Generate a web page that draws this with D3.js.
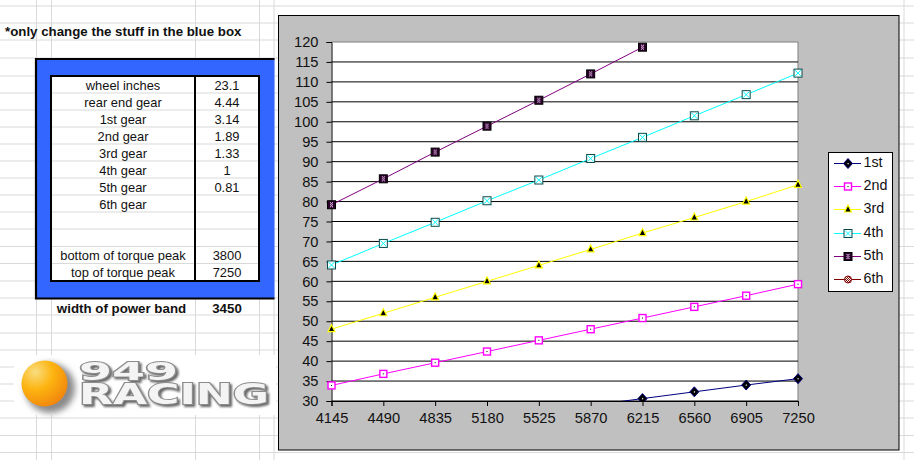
<!DOCTYPE html>
<html><head><meta charset="utf-8">
<script src="https://cdn.jsdelivr.net/npm/d3@7/dist/d3.min.js"></script>
<style>html,body{margin:0;padding:0;background:#fff}svg{display:block}text{font-family:"Liberation Sans",Arial,sans-serif;fill:#111}</style>
</head><body><svg id="c" width="914" height="460"></svg>
<script>
const categories=[4145,4490,4835,5180,5525,5870,6215,6560,6905,7250];
const gear1=[null,null,null,null,null,28.9,30.6,32.3,34.0,35.6];
const gear2=[33.9,36.8,39.6,42.4,45.2,48.0,50.8,53.6,56.4,59.3];
const gear3=[48.0,52.0,56.0,60.0,64.0,68.0,72.1,76.0,80.0,84.2];
const gear4=[64.1,69.5,74.8,80.2,85.4,90.8,96.1,101.5,106.8,112.2];
const gear5=[79.2,85.7,92.4,98.9,105.4,112.0,118.7,null,null,null];
const gear6=[];
const seriesNames=["1st","2nd","3rd","4th","5th","6th"];
const yTicks=d3.range(30,121,5);
const rowLabels=["wheel inches","rear end gear","1st gear","2nd gear","3rd gear","4th gear","5th gear","6th gear","","","bottom of torque peak","top of torque peak"];
const rowValues=["23.1","4.44","3.14","1.89","1.33","1","0.81","","","","3800","7250"];
const sheetRows=[6,23,40,58,76,93,110,127,144,161,178,195,212,229,246.5,263.5,281,298,315,333,350,367,384,401,418,435.5,452.5];
const sheetCols=[36.5,51.5,195.5,259.5,274,904];

const svg=d3.select("#c");
const T={sheet:"#d9d9d9",blue:"#3366ff",chart:"#c0c0c0"};
const colors=["#000080","#ff00ff","#ffff00","#00ffff","#800080","#800000"];
const data=[gear1,gear2,gear3,gear4,gear5,gear6];
const M={l:331.5,r:798,t:42,b:401};
const x=d3.scalePoint().domain(categories).range([M.l,M.r]);
const y=d3.scaleLinear().domain([30,120]).range([M.b,M.t]);

const defs=svg.append("defs");
defs.append("clipPath").attr("id","pc").append("rect").attr("x",M.l-8).attr("y",M.t-8).attr("width",M.r-M.l+16).attr("height",M.b-M.t+8);
defs.append("clipPath").attr("id","pl").append("rect").attr("x",M.l).attr("y",M.t).attr("width",M.r-M.l).attr("height",M.b-M.t);
const p6=defs.append("pattern").attr("id","p6").attr("width",2).attr("height",2).attr("patternUnits","userSpaceOnUse");
p6.append("rect").attr("width",2).attr("height",2).attr("fill","#fff");
p6.append("rect").attr("width",1).attr("height",1).attr("fill","#800000");
p6.append("rect").attr("x",1).attr("y",1).attr("width",1).attr("height",1).attr("fill","#800000");
const sph=defs.append("radialGradient").attr("id","sph").attr("cx",.3).attr("cy",.25).attr("r",.85);
sph.append("stop").attr("offset",0).attr("stop-color","#f9dd80");
sph.append("stop").attr("offset",.45).attr("stop-color","#fdb410");
sph.append("stop").attr("offset",1).attr("stop-color","#f0820c");
defs.append("filter").attr("id","blur").attr("x","-30%").attr("y","-30%").attr("width","160%").attr("height","160%").append("feGaussianBlur").attr("stdDeviation",3);
defs.append("filter").attr("id","ds").attr("x","-5%").attr("y","-20%").attr("width","115%").attr("height","150%").append("feDropShadow")
 .attr("dx",2).attr("dy",2).attr("stdDeviation",1.2).attr("flood-color","#666");

// spreadsheet grid
const g0=svg.append("g").attr("stroke",T.sheet).attr("stroke-width",1);
g0.selectAll("line.r").data(sheetRows).join("line").attr("x1",0).attr("x2",914).attr("y1",d=>d).attr("y2",d=>d);
g0.selectAll("line.c").data(sheetCols).join("line").attr("y1",0).attr("y2",460).attr("x1",d=>d).attr("x2",d=>d);

// blue box
svg.append("rect").attr("x",36).attr("y",59).attr("width",238.5).attr("height",239).attr("fill",T.blue);
svg.append("path").attr("d","M274.5 59H36V298.5H274.5").attr("fill","none").attr("stroke","#000").attr("stroke-width",2.2);
svg.append("rect").attr("x",51).attr("y",76).attr("width",208).attr("height",205).attr("fill","#fff").attr("stroke","#000").attr("stroke-width",2);
svg.append("g").attr("stroke",T.sheet).selectAll("line").data(sheetRows.filter(d=>d>76&&d<280)).join("line")
 .attr("x1",52).attr("x2",258).attr("y1",d=>d).attr("y2",d=>d);
svg.append("line").attr("x1",195).attr("x2",195).attr("y1",76).attr("y2",281).attr("stroke","#000").attr("stroke-width",2);
rowLabels.forEach((t,i)=>{const yy=90+17*i;
 svg.append("text").attr("x",123).attr("y",yy).attr("text-anchor","middle").attr("font-size",12.9).text(t);
 svg.append("text").attr("x",227).attr("y",yy).attr("text-anchor","middle").attr("font-size",12.9).text(rowValues[i]);});
svg.append("text").attr("x",5).attr("y",36).attr("font-size",13.3).attr("font-weight","bold").text("*only change the stuff in the blue box");
svg.append("text").attr("x",121.5).attr("y",313).attr("text-anchor","middle").attr("font-size",13.3).attr("font-weight","bold").text("width of power band");
svg.append("text").attr("x",227).attr("y",313).attr("text-anchor","middle").attr("font-size",13.3).attr("font-weight","bold").text("3450");

// logo
svg.append("rect").attr("x",14).attr("y",355).attr("width",262).attr("height",60).attr("fill","#fff");
svg.append("circle").attr("cx",50).attr("cy",388).attr("r",25).attr("fill","#8a8a8a").attr("filter","url(#blur)");
svg.append("circle").attr("cx",44.5).attr("cy",383.5).attr("r",23).attr("fill","url(#sph)");
function logo(t,xx,yy,w,fs){
 svg.append("text").attr("x",xx).attr("y",yy).attr("font-size",fs).attr("textLength",w).attr("lengthAdjust","spacingAndGlyphs").text(t)
  .attr("filter","url(#ds)")
  .style("font-family","'DejaVu Sans'").style("font-weight","bold")
  .style("fill","#f4f4f4").style("stroke","#8c8c8c").style("stroke-width",1.8).style("paint-order","stroke");
}
logo("949",79,380,99,25);
logo("RACING",79,403.5,190,28);

// chart
svg.append("rect").attr("x",278.5).attr("y",15.5).attr("width",620.5).attr("height",434.5).attr("fill",T.chart).attr("stroke","#000");
svg.append("rect").attr("x",M.l).attr("y",M.t).attr("width",M.r-M.l).attr("height",M.b-M.t).attr("fill","#fff");
svg.append("path").attr("d",`M${M.l} ${M.t}H${M.r}V${M.b}`).attr("fill","none").attr("stroke","#808080");
svg.append("g").attr("stroke","#000").selectAll("line").data(yTicks.filter(d=>d<120)).join("line")
 .attr("x1",M.l).attr("x2",M.r).attr("y1",d=>y(d)).attr("y2",d=>y(d));
const yAxis=svg.append("g").attr("transform",`translate(${M.l},0)`).call(d3.axisLeft(y).tickValues(yTicks).tickSize(5).tickPadding(8));
const xAxis=svg.append("g").attr("transform",`translate(0,${M.b})`).call(d3.axisBottom(x).tickSize(5).tickPadding(7));
[yAxis,xAxis].forEach(a=>{a.selectAll("path,line").attr("stroke","#000");a.selectAll("text").attr("font-size",14.67).style("font-family","'Liberation Sans'").style("fill","#111");});

const line=d3.line().defined(d=>d.v!=null).x(d=>x(d.c)).y(d=>y(d.v));
const lg=svg.append("g").attr("clip-path","url(#pl)");
const mg=svg.append("g").attr("clip-path","url(#pc)");
function marker(g,i,cx,cy){
 if(i===0){g.append("path").attr("d",`M${cx} ${cy-5}L${cx+4.5} ${cy}L${cx} ${cy+5}L${cx-4.5} ${cy}Z`).attr("fill","#000").attr("stroke","#000080");
  g.append("rect").attr("x",cx-.5).attr("y",cy-.5).attr("width",1.2).attr("height",1.2).attr("fill","#fff");}
 if(i===1){g.append("rect").attr("x",cx-3.5).attr("y",cy-3.5).attr("width",7).attr("height",7).attr("fill","#fff").attr("stroke","#ff00ff").attr("stroke-width",1.4);
  g.append("rect").attr("x",cx-.5).attr("y",cy-.5).attr("width",1).attr("height",1).attr("fill","#000");}
 if(i===2){g.append("path").attr("d",`M${cx} ${cy-4.5}L${cx+3.5} ${cy+2.5}H${cx-3.5}Z`).attr("fill","#000").attr("stroke","#ffff00").attr("stroke-width",1.2);}
 if(i===3){g.append("rect").attr("x",cx-4).attr("y",cy-4).attr("width",8).attr("height",8).attr("fill","#fff").attr("stroke","#0a4a4a");
  g.append("path").attr("d",`M${cx-3} ${cy-3}L${cx+3} ${cy+3}M${cx+3} ${cy-3}L${cx-3} ${cy+3}`).attr("stroke","#00ffff");}
 if(i===4){g.append("rect").attr("x",cx-4).attr("y",cy-4).attr("width",8).attr("height",8).attr("fill","#2a002a").attr("stroke","#000");
  [[-1.5,-2.5],[.5,-2.5],[-.5,-1.5],[-1.5,-.5],[.5,-.5],[-.5,.5],[-1.5,1.5],[.5,1.5]].forEach(o=>
   g.append("rect").attr("x",cx+o[0]).attr("y",cy+o[1]).attr("width",1).attr("height",1).attr("fill","#ffd0ff"));}
 if(i===5){g.append("circle").attr("cx",cx).attr("cy",cy).attr("r",3.5).attr("fill","url(#p6)").attr("stroke","#800000");}
}
data.forEach((vals,i)=>{
 const pts=categories.map((c,j)=>({c,v:vals[j]??null}));
 lg.append("path").attr("d",line(pts)).attr("fill","none").attr("stroke",colors[i]).attr("stroke-width",1);
 pts.filter(p=>p.v!=null&&p.v>=30).forEach(p=>marker(mg.append("g"),i,x(p.c),y(p.v)));
});

// legend
svg.append("rect").attr("x",828.5).attr("y",152.5).attr("width",64).attr("height",139).attr("fill","#fff").attr("stroke","#000");
const rowY=d3.scaleLinear().domain([0,5]).range([163,279]);
seriesNames.forEach((n,i)=>{const yy=Math.round(rowY(i))+.5;
 svg.append("line").attr("x1",834).attr("x2",861).attr("y1",yy).attr("y2",yy).attr("stroke",colors[i]);
 marker(svg.append("g"),i,848,yy);
 svg.append("text").attr("x",863.5).attr("y",yy+3.5).attr("font-size",14.3).text(n);
});
</script></body></html>
